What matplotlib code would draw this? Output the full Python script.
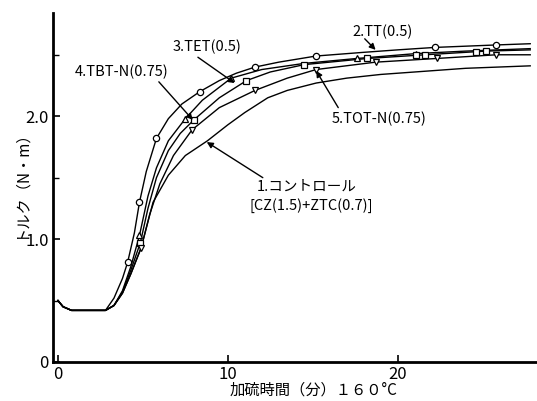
import matplotlib
matplotlib.use("Agg")
import matplotlib.pyplot as plt
from matplotlib.ticker import MultipleLocator

plt.rcParams['font.family'] = ['Noto Sans CJK JP', 'DejaVu Sans']

# ---- data ----
# 4. TBT-N(0.75)  (circles)
x_tbt = [0, 0.3, 0.8, 2.8, 3.3, 3.8, 4.1, 4.5, 4.8, 5.2, 5.8, 6.5, 7.3, 8.35, 9.5, 10.5, 11.6, 13, 15.2, 18, 20, 22.2, 25.8, 27.8]
y_tbt = [0.50, 0.45, 0.42, 0.42, 0.52, 0.68, 0.81, 1.05, 1.30, 1.55, 1.82, 1.98, 2.10, 2.20, 2.29, 2.35, 2.40, 2.44, 2.49, 2.52, 2.54, 2.56, 2.58, 2.59]
mx_tbt = [4.1, 4.8, 5.8, 8.35, 11.6, 15.2, 22.2, 25.8]
my_tbt = [0.81, 1.30, 1.82, 2.20, 2.40, 2.49, 2.56, 2.58]

# 2. TT(0.5)  (triangles)
x_tt = [0, 0.3, 0.8, 2.8, 3.3, 3.8, 4.3, 4.8, 5.3, 5.8, 6.5, 7.5, 8.5, 10.2, 12, 14.5, 17.6, 21.1, 24, 27.8]
y_tt = [0.50, 0.45, 0.42, 0.42, 0.46, 0.58, 0.78, 1.03, 1.35, 1.58, 1.80, 1.98, 2.13, 2.31, 2.38, 2.43, 2.47, 2.51, 2.53, 2.55]
mx_tt = [4.8, 7.5, 10.2, 17.6, 21.1]
my_tt = [1.03, 1.98, 2.31, 2.47, 2.51]

# 3. TET(0.5)  (squares)
x_tet = [0, 0.3, 0.8, 2.8, 3.3, 3.8, 4.3, 4.85, 5.3, 5.8, 6.5, 7.2, 8.0, 9.5, 11.1, 12.5, 14.5, 18.2, 21.6, 25.2, 27.8]
y_tet = [0.50, 0.45, 0.42, 0.42, 0.46, 0.57, 0.75, 0.97, 1.25, 1.50, 1.72, 1.86, 1.97, 2.15, 2.29, 2.36, 2.42, 2.47, 2.50, 2.53, 2.54]
mx_tet = [4.85, 8.0, 11.1, 14.5, 18.2, 21.1, 21.6, 24.6, 25.2]
my_tet = [0.97, 1.97, 2.29, 2.42, 2.47, 2.50, 2.50, 2.52, 2.53]

# 5. TOT-N(0.75)  (down triangles)
x_tot = [0, 0.3, 0.8, 2.8, 3.3, 3.8, 4.3, 4.9, 5.4, 6.0, 6.8, 7.9, 9.5, 11.6, 13.5, 15.2, 18.7, 22.3, 25.8, 27.8]
y_tot = [0.50, 0.45, 0.42, 0.42, 0.46, 0.56, 0.72, 0.93, 1.20, 1.45, 1.68, 1.89, 2.07, 2.21, 2.31, 2.38, 2.44, 2.47, 2.50, 2.50]
mx_tot = [4.9, 7.9, 11.6, 15.2, 18.7, 22.3, 25.8]
my_tot = [0.93, 1.89, 2.21, 2.38, 2.44, 2.47, 2.50]

# 1. control (no markers)
x_ctl = [0, 0.3, 0.8, 2.8, 3.3, 3.8, 4.3, 4.9, 5.6, 6.5, 7.5, 8.8, 10, 11, 12.35, 13.5, 15.2, 17, 19, 21, 24, 27.8]
y_ctl = [0.50, 0.45, 0.42, 0.42, 0.46, 0.56, 0.72, 0.93, 1.30, 1.52, 1.68, 1.80, 1.93, 2.03, 2.15, 2.21, 2.27, 2.31, 2.34, 2.36, 2.39, 2.41]

x_ticks = [0, 10, 20]
x_ticklabels = ['0', '10', '20']
y_ticks = [0, 1.0, 2.0]
y_ticklabels = ['0', '1.0', '2.0']

xlabel = '加硫時間（分）１６０°C'
ylabel = 'トルク（N・m）'

# ---- figure ----
W, H = 537, 401
fig = plt.figure(figsize=(W / 100, H / 100), dpi=100)
ax = fig.add_axes([53 / W, (H - 362) / H, (W - 53) / W, 349 / H])
ax.set_xlim(-0.29, 28.2)
ax.set_ylim(0, 2.84)

lc = 'black'
lw = 1.0
ax.plot(x_ctl, y_ctl, color=lc, lw=lw)
ax.plot(x_tot, y_tot, color=lc, lw=lw)
ax.plot(x_tet, y_tet, color=lc, lw=lw)
ax.plot(x_tt, y_tt, color=lc, lw=lw)
ax.plot(x_tbt, y_tbt, color=lc, lw=lw)

mk = dict(linestyle='none', mfc='white', mec='black', mew=0.9, ms=4.5, zorder=3)
ax.plot(mx_tbt, my_tbt, marker='o', **mk)
ax.plot(mx_tt, my_tt, marker='^', **mk)
ax.plot(mx_tet, my_tet, marker='s', **{**mk, 'ms': 4})
ax.plot(mx_tot, my_tot, marker='v', **mk)

for s in ['top', 'right']:
    ax.spines[s].set_visible(False)
for s in ['left', 'bottom']:
    ax.spines[s].set_linewidth(2.0)

ax.set_xticks(x_ticks)
ax.set_xticklabels(x_ticklabels)
ax.set_yticks(y_ticks)
ax.set_yticklabels(y_ticklabels)
ax.yaxis.set_minor_locator(MultipleLocator(0.5))
ax.tick_params(axis='both', which='major', direction='in', length=5, width=1.2,
               labelsize=12, pad=3)
ax.tick_params(axis='y', which='minor', direction='in', length=4, width=1.0)

fig.text(314 / W, 1 - 390 / H, xlabel, ha='center', va='center', fontsize=11)
fig.text(20 / W, 1 - 180 / H, ylabel, ha='center', va='center', rotation=90, fontsize=11)

ap = dict(arrowstyle='-|>', color='black', lw=1.0, mutation_scale=9, shrinkA=0, shrinkB=0)
fs = 10.5
ax.annotate('', xy=(7.94, 1.97), xytext=(5.94, 2.28), arrowprops=ap)
ax.text(3.76, 2.36, '4.TBT-N(0.75)', ha='center', va='center', fontsize=fs)
ax.annotate('', xy=(10.4, 2.27), xytext=(8.24, 2.48), arrowprops=ap)
ax.text(8.76, 2.56, '3.TET(0.5)', ha='center', va='center', fontsize=fs)
ax.annotate('', xy=(18.7, 2.54), xytext=(18.06, 2.63), arrowprops=ap)
ax.text(19.1, 2.69, '2.TT(0.5)', ha='center', va='center', fontsize=fs)
ax.annotate('', xy=(15.2, 2.37), xytext=(16.5, 2.07), arrowprops=ap)
ax.text(18.9, 1.98, '5.TOT-N(0.75)', ha='center', va='center', fontsize=fs)
ax.annotate('', xy=(8.76, 1.79), xytext=(12.06, 1.50), arrowprops=ap)
ax.text(11.7, 1.43, '1.コントロール', ha='left', va='center', fontsize=fs)
ax.text(11.3, 1.27, '[CZ(1.5)+ZTC(0.7)]', ha='left', va='center', fontsize=fs)

fig.savefig('out.png', dpi=100)
